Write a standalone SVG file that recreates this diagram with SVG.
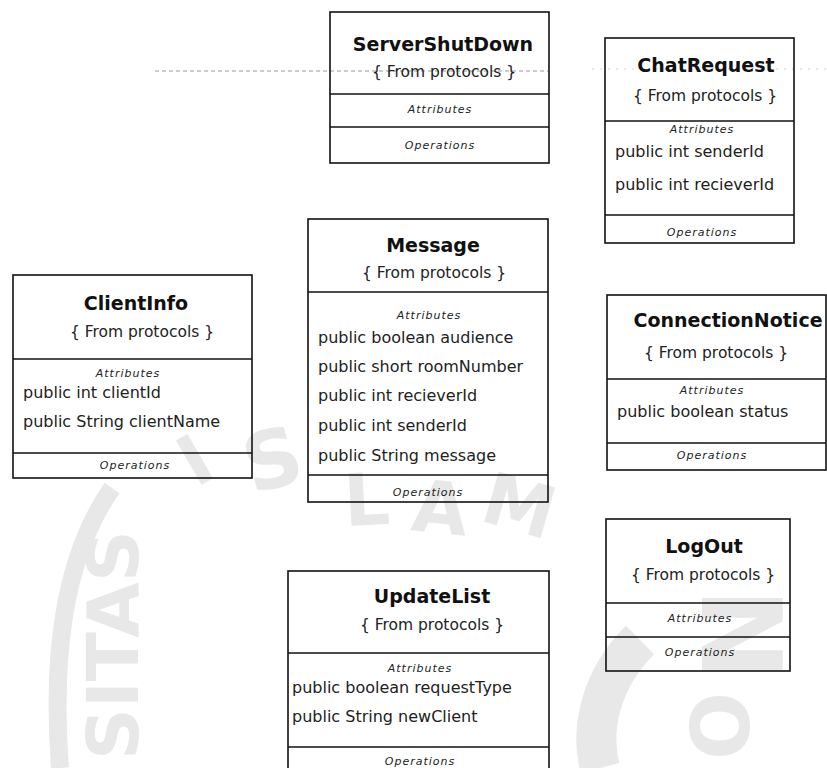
<svg xmlns="http://www.w3.org/2000/svg" width="827" height="768" viewBox="0 0 827 768">
<style>
.box{fill:none;stroke:#111;stroke-width:1.6}
.dv{stroke:#111;stroke-width:1.6}
.t{font-family:"DejaVu Sans",Verdana,sans-serif;font-weight:bold;font-size:19px;fill:#111;text-anchor:middle}
.s{font-family:"DejaVu Sans",Verdana,sans-serif;font-size:15.5px;fill:#222;text-anchor:middle}
.a{font-family:"DejaVu Sans",Verdana,sans-serif;font-size:16px;fill:#222}
.l{font-family:"DejaVu Sans",Verdana,sans-serif;font-style:italic;font-size:11px;letter-spacing:1px;fill:#222;text-anchor:middle}
.wm{fill:#e8e8e8;font-family:"DejaVu Sans",sans-serif;font-weight:bold}
</style>
<rect width="827" height="768" fill="#fff"/>
<g id="watermark">
  <path d="M 60 768 C 52 660 62 560 112 488" fill="none" stroke="#e8e8e8" stroke-width="18"/>
  <text class="wm" font-size="72" text-anchor="middle" transform="translate(138,645) rotate(-90)">SITAS</text>
  <text class="wm" font-size="70" transform="translate(196,488) rotate(-30)">I</text>
  <text class="wm" font-size="80" transform="translate(252,494) rotate(-15)">S</text>
  <text class="wm" font-size="72" transform="translate(345,526) rotate(-3)">L</text>
  <text class="wm" font-size="72" transform="translate(410,530) rotate(6)">A</text>
  <text class="wm" font-size="72" transform="translate(478,520) rotate(16)">M</text>
  <text class="wm" font-size="110" transform="translate(702,588) rotate(90)">N</text>
  <text class="wm" font-size="80" transform="translate(690,692) rotate(90)">O</text>
  <path d="M 640 640 C 600 680 590 730 600 768" fill="none" stroke="#e8e8e8" stroke-width="40"/>
</g>
<g id="artifacts" fill="none">
  <line x1="155" y1="71" x2="548" y2="71" stroke="#9a9a9a" stroke-width="1" stroke-dasharray="4 3"/>
  <line x1="592" y1="69" x2="827" y2="69" stroke="#d0d0d0" stroke-width="1" stroke-dasharray="2 6"/>
</g>
<g id="connectors"></g>
<g id="ServerShutDown">
  <rect class="box" x="330" y="12" width="219" height="151"/>
  <line class="dv" x1="330" y1="94" x2="549" y2="94"/>
  <line class="dv" x1="330" y1="127" x2="549" y2="127"/>
  <text class="t" x="443" y="51">ServerShutDown</text>
  <text class="s" x="444" y="77">{ From protocols }</text>
  <text class="l" x="440" y="113">Attributes</text>
  <text class="l" x="440" y="149">Operations</text>
</g>
<g id="ChatRequest">
  <rect class="box" x="605" y="38" width="189" height="205"/>
  <line class="dv" x1="605" y1="121" x2="794" y2="121"/>
  <line class="dv" x1="605" y1="215" x2="794" y2="215"/>
  <text class="t" x="706" y="72">ChatRequest</text>
  <text class="s" x="705" y="101">{ From protocols }</text>
  <text class="l" x="702" y="133">Attributes</text>
  <text class="a" x="615" y="157">public int senderId</text>
  <text class="a" x="615" y="190">public int recieverId</text>
  <text class="l" x="702" y="236">Operations</text>
</g>
<g id="Message">
  <rect class="box" x="308" y="219" width="240" height="283"/>
  <line class="dv" x1="308" y1="292" x2="548" y2="292"/>
  <line class="dv" x1="308" y1="475" x2="548" y2="475"/>
  <text class="t" x="433" y="252">Message</text>
  <text class="s" x="434" y="278">{ From protocols }</text>
  <text class="l" x="429" y="319">Attributes</text>
  <text class="a" x="318" y="343">public boolean audience</text>
  <text class="a" x="318" y="372">public short roomNumber</text>
  <text class="a" x="318" y="401">public int recieverId</text>
  <text class="a" x="318" y="431">public int senderId</text>
  <text class="a" x="318" y="461">public String message</text>
  <text class="l" x="428" y="496">Operations</text>
</g>
<g id="ClientInfo">
  <rect class="box" x="13" y="275" width="239" height="203"/>
  <line class="dv" x1="13" y1="359" x2="252" y2="359"/>
  <line class="dv" x1="13" y1="453" x2="252" y2="453"/>
  <text class="t" x="136" y="310">ClientInfo</text>
  <text class="s" x="142" y="337">{ From protocols }</text>
  <text class="l" x="128" y="377">Attributes</text>
  <text class="a" x="23" y="398">public int clientId</text>
  <text class="a" x="23" y="427">public String clientName</text>
  <text class="l" x="135" y="469">Operations</text>
</g>
<g id="ConnectionNotice">
  <rect class="box" x="607" y="295" width="219" height="175"/>
  <line class="dv" x1="607" y1="379" x2="826" y2="379"/>
  <line class="dv" x1="607" y1="443" x2="826" y2="443"/>
  <text class="t" x="728" y="327">ConnectionNotice</text>
  <text class="s" x="716" y="358">{ From protocols }</text>
  <text class="l" x="712" y="394">Attributes</text>
  <text class="a" x="617" y="417">public boolean status</text>
  <text class="l" x="712" y="459">Operations</text>
</g>
<g id="LogOut">
  <rect class="box" x="606" y="519" width="184" height="152"/>
  <line class="dv" x1="606" y1="603" x2="790" y2="603"/>
  <line class="dv" x1="606" y1="637" x2="790" y2="637"/>
  <text class="t" x="704" y="553">LogOut</text>
  <text class="s" x="703" y="580">{ From protocols }</text>
  <text class="l" x="700" y="622">Attributes</text>
  <text class="l" x="700" y="656">Operations</text>
</g>
<g id="UpdateList">
  <rect class="box" x="288" y="571" width="261" height="210"/>
  <line class="dv" x1="288" y1="653" x2="549" y2="653"/>
  <line class="dv" x1="288" y1="747" x2="549" y2="747"/>
  <text class="t" x="432" y="603">UpdateList</text>
  <text class="s" x="432" y="630">{ From protocols }</text>
  <text class="l" x="420" y="672">Attributes</text>
  <text class="a" x="292" y="693">public boolean requestType</text>
  <text class="a" x="292" y="722">public String newClient</text>
  <text class="l" x="420" y="765">Operations</text>
</g>
</svg>
